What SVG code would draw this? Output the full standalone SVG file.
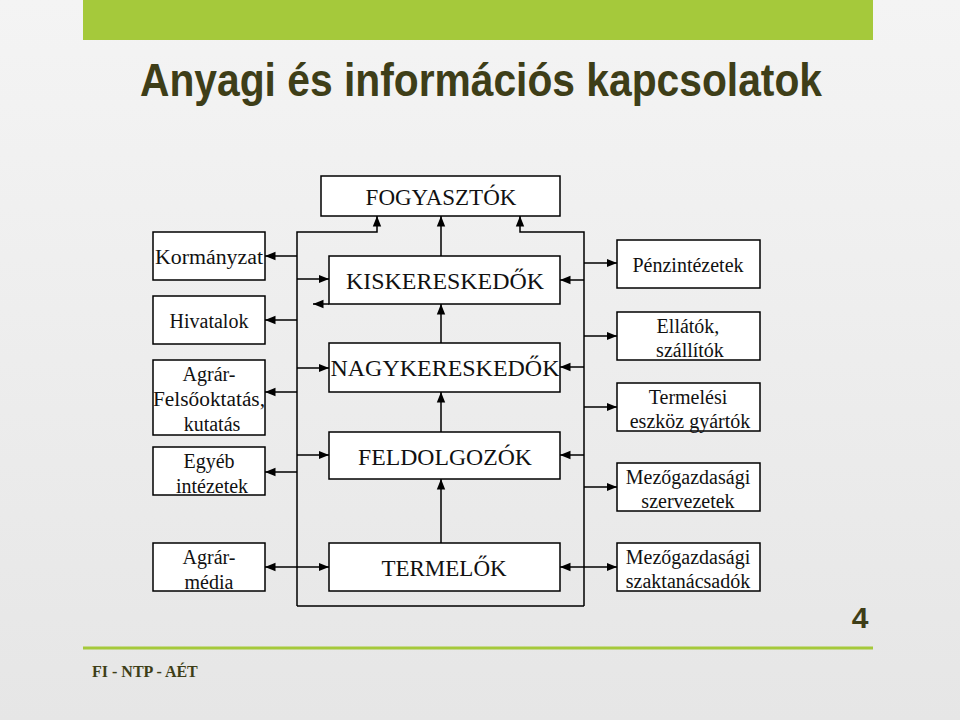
<svg xmlns="http://www.w3.org/2000/svg" width="960" height="720" viewBox="0 0 960 720">
<defs>
<linearGradient id="bg" x1="0" y1="0" x2="0" y2="1"><stop offset="0" stop-color="#f4f4f4"/><stop offset="1" stop-color="#e6e6e6"/></linearGradient>
<marker id="a" viewBox="0 0 10 10" refX="10" refY="5" markerWidth="7" markerHeight="7" orient="auto-start-reverse"><path d="M0,1 L10,5 L0,9 z" fill="#000"/></marker>
<style>
.b{fill:#fff;stroke:#000;stroke-width:1.5}
.t{font-family:"Liberation Serif","DejaVu Serif",serif;font-size:23px;fill:#111;text-anchor:middle}
.s{font-family:"Liberation Serif","DejaVu Serif",serif;font-size:20px;fill:#111;text-anchor:middle}
.c path{fill:none;stroke:#000;stroke-width:1.5}
</style>
</defs>
<rect width="960" height="720" fill="url(#bg)"/>
<rect x="83" y="0" width="790" height="40" fill="#a5c93b"/>
<text x="140" y="96" font-family="Liberation Sans, sans-serif" font-weight="bold" font-size="46" fill="#3e3e18" textLength="682" lengthAdjust="spacingAndGlyphs">Anyagi és információs kapcsolatok</text>
<line x1="83" y1="648" x2="873" y2="648" stroke="#a5c93b" stroke-width="3"/>
<text x="860" y="628" font-family="Liberation Sans, sans-serif" font-weight="bold" font-size="30" fill="#3e3e18" text-anchor="middle">4</text>
<text x="92" y="677" font-family="Liberation Serif, serif" font-weight="bold" font-size="16" fill="#3e3e18">FI - NTP - AÉT</text>

<g class="c">
<path d="M297,606 V232 H377 V216" marker-end="url(#a)"/>
<path d="M584,606 V232 H520 V216" marker-end="url(#a)"/>
<path d="M297,606 H584"/>
<path d="M441,256 V216" marker-end="url(#a)"/>
<path d="M441,343 V304" marker-end="url(#a)"/>
<path d="M441,432 V392" marker-end="url(#a)"/>
<path d="M441,543 V479" marker-end="url(#a)"/>
<path d="M297,256 H265" marker-end="url(#a)"/>
<path d="M297,320 H265" marker-end="url(#a)"/>
<path d="M297,392 H265" marker-end="url(#a)"/>
<path d="M297,472 H265" marker-end="url(#a)"/>
<path d="M265,567 H329" marker-start="url(#a)" marker-end="url(#a)"/>
<path d="M297,279 H329" marker-end="url(#a)"/>
<path d="M297,368 H329" marker-end="url(#a)"/>
<path d="M297,455 H329" marker-end="url(#a)"/>
<path d="M329,304 H313" marker-end="url(#a)"/>
<path d="M584,263 H617" marker-end="url(#a)"/>
<path d="M584,336 H617" marker-end="url(#a)"/>
<path d="M584,407 H617" marker-end="url(#a)"/>
<path d="M584,487 H617" marker-end="url(#a)"/>
<path d="M560,567 H617" marker-start="url(#a)" marker-end="url(#a)"/>
<path d="M584,280 H560" marker-end="url(#a)"/>
<path d="M584,367 H560" marker-end="url(#a)"/>
<path d="M584,455 H560" marker-end="url(#a)"/>
</g>

<g id="fogyasztok"><rect class="b" x="321" y="176" width="239" height="40"/><text class="t" x="441" y="205">FOGYASZTÓK</text></g>
<g id="kisker"><rect class="b" x="329" y="256" width="231" height="48"/><text class="t" x="445" y="289" textLength="198" lengthAdjust="spacingAndGlyphs">KISKERESKEDŐK</text></g>
<g id="nagyker"><rect class="b" x="329" y="343" width="231" height="49"/><text class="t" x="445" y="376" textLength="229" lengthAdjust="spacingAndGlyphs">NAGYKERESKEDŐK</text></g>
<g id="feldolg"><rect class="b" x="329" y="432" width="231" height="47"/><text class="t" x="445" y="465" textLength="174" lengthAdjust="spacingAndGlyphs">FELDOLGOZÓK</text></g>
<g id="termelok"><rect class="b" x="329" y="543" width="231" height="48"/><text class="t" x="444" y="576">TERMELŐK</text></g>

<g id="kormanyzat"><rect class="b" x="153" y="232" width="112" height="48"/><text class="s" x="209" y="264" textLength="108" lengthAdjust="spacingAndGlyphs">Kormányzat</text></g>
<g id="hivatalok"><rect class="b" x="153" y="296" width="112" height="48"/><text class="s" x="209" y="328">Hivatalok</text></g>
<g id="agrar"><rect class="b" x="153" y="360" width="112" height="75"/><text class="s" x="209" y="381">Agrár-</text><text class="s" x="209" y="406" textLength="112" lengthAdjust="spacingAndGlyphs">Felsőoktatás,</text><text class="s" x="212" y="431">kutatás</text></g>
<g id="egyeb"><rect class="b" x="153" y="447" width="112" height="48"/><text class="s" x="209" y="468">Egyéb</text><text class="s" x="212" y="493">intézetek</text></g>
<g id="media"><rect class="b" x="153" y="543" width="112" height="48"/><text class="s" x="209" y="564">Agrár-</text><text class="s" x="209" y="589">média</text></g>

<g id="penz"><rect class="b" x="617" y="240" width="143" height="48"/><text class="s" x="688" y="272">Pénzintézetek</text></g>
<g id="ellatok"><rect class="b" x="617" y="312" width="143" height="48"/><text class="s" x="688" y="333">Ellátók,</text><text class="s" x="690" y="357">szállítók</text></g>
<g id="termelesi"><rect class="b" x="617" y="383" width="143" height="48"/><text class="s" x="688" y="404">Termelési</text><text class="s" x="690" y="428">eszköz gyártók</text></g>
<g id="szervezetek"><rect class="b" x="617" y="463" width="143" height="48"/><text class="s" x="688" y="484">Mezőgazdasági</text><text class="s" x="688" y="508">szervezetek</text></g>
<g id="szaktan"><rect class="b" x="617" y="543" width="143" height="48"/><text class="s" x="688" y="564">Mezőgazdasági</text><text class="s" x="688" y="588">szaktanácsadók</text></g>
</svg>
